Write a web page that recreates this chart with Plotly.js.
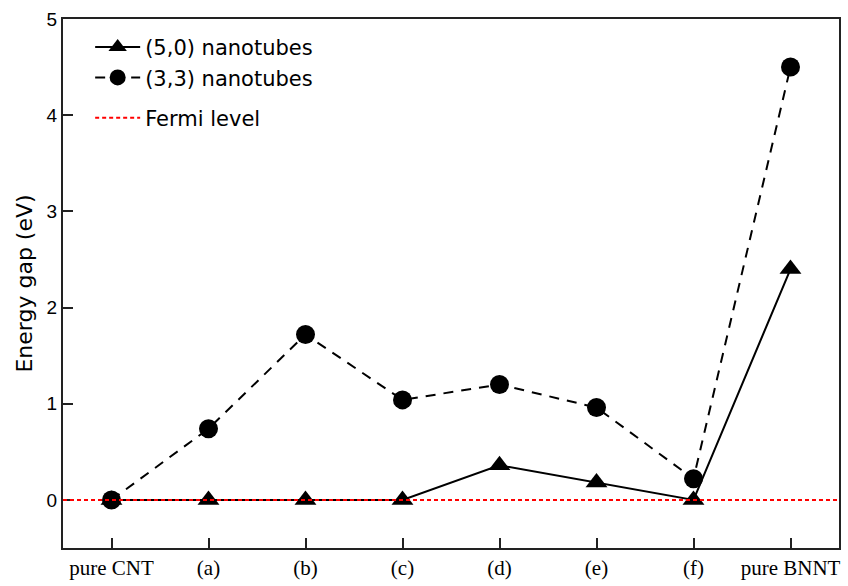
<!DOCTYPE html>
<html>
<head>
<meta charset="utf-8">
<script src="https://cdn.plot.ly/plotly-3.0.1.min.js"></script>
<style>html,body{margin:0;padding:0;background:#fff;}#chart{width:848px;height:586px;}</style>
</head>
<body>
<div id="chart"></div>
<script>
const categories = ['pure CNT', '(a)', '(b)', '(c)', '(d)', '(e)', '(f)', 'pure BNNT'];
const gap50 = [0, 0, 0, 0, 0.36, 0.18, 0, 2.4];
const gap33 = [0, 0.74, 1.72, 1.04, 1.2, 0.96, 0.22, 4.5];
const yTicks = [0, 1, 2, 3, 4, 5];
const fermiLevel = 0;

const idx = categories.map((c, i) => i);

const traces = [
  {
    x: idx, y: gap50, name: '(5,0) nanotubes', type: 'scatter', mode: 'lines+markers',
    legendgroup: 'tubes',
    line: {color: '#000', width: 2},
    marker: {symbol: 'triangle-up', size: 19, color: '#000'}
  },
  {
    x: idx, y: gap33, name: '(3,3) nanotubes', type: 'scatter', mode: 'lines+markers',
    legendgroup: 'tubes',
    line: {color: '#000', width: 2, dash: '10px,8px'},
    marker: {symbol: 'circle', size: 19, color: '#000'}
  }
];

const axisFrame = {showline: true, linecolor: '#222', linewidth: 2, mirror: true,
  ticks: 'inside', ticklen: 10, tickwidth: 2, tickcolor: '#222', showgrid: false, zeroline: false};

const sans = 'DejaVu Sans, sans-serif';

const layout = {
  width: 848, height: 586,
  margin: {l: 63, r: 9, t: 19, b: 38},
  paper_bgcolor: '#fff', plot_bgcolor: '#fff',
  showlegend: true,
  legend: {x: 0.035, y: 0.985, xanchor: 'left', yanchor: 'top', bgcolor: 'rgba(0,0,0,0)',
    font: {family: sans, size: 21, color: '#000'}, tracegroupgap: 10, itemwidth: 45, traceorder: 'grouped'},
  xaxis: Object.assign({}, axisFrame, {
    range: [-0.5, categories.length - 0.5],
    tickvals: idx, ticktext: categories,
    tickfont: {family: 'Liberation Serif, Times New Roman, serif', size: 21, color: '#000'}
  }),
  yaxis: Object.assign({}, axisFrame, {
    range: [-0.5, 5], tickvals: yTicks,
    tickfont: {family: 'Liberation Sans, Arial, sans-serif', size: 19, color: '#000'},
    title: {text: 'Energy gap (eV)', font: {family: sans, size: 22, color: '#000'}, standoff: 8}
  }),
  shapes: [{
    type: 'line', xref: 'paper', x0: 0, x1: 1, yref: 'y', y0: fermiLevel, y1: fermiLevel,
    line: {color: '#ff0000', width: 2, dash: '4px,3px'},
    showlegend: true, name: 'Fermi level', legendgroup: 'fermi'
  }]
};

Plotly.newPlot('chart', traces, layout, {displayModeBar: false, staticPlot: true});
</script>
</body>
</html>
